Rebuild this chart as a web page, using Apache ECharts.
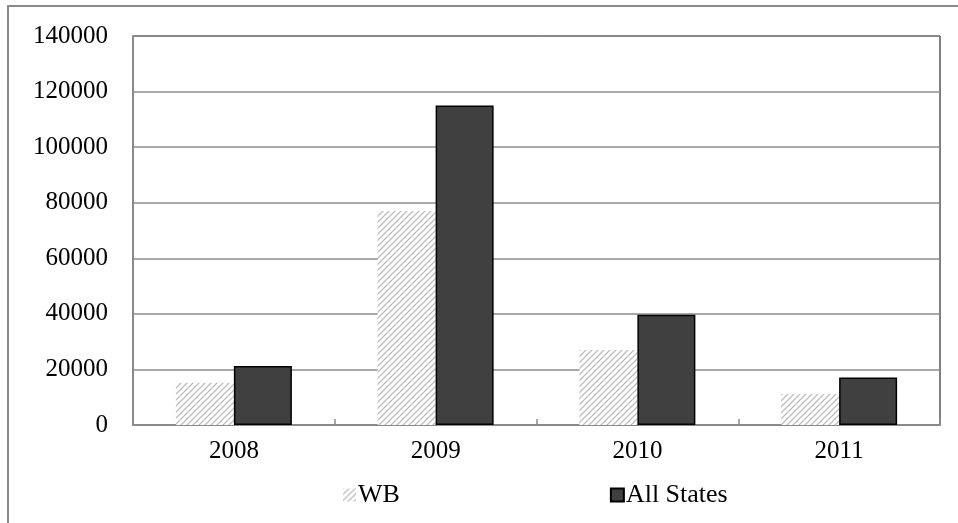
<!DOCTYPE html>
<html>
<head>
<meta charset="utf-8">
<script src="https://cdn.jsdelivr.net/npm/echarts@6/dist/echarts.min.js"></script>
<style>
  html, body { margin: 0; padding: 0; background: #fff; }
  #chart { width: 958px; height: 523px; }
</style>
</head>
<body>
<div id="chart"></div>
<script>
// Yearly totals, WB versus all states
const years = ['2008', '2009', '2010', '2011'];
const wbValues = [15200, 77000, 27000, 11200];
const allStatesValues = [21200, 115000, 39700, 17100];
const yTicks = { min: 0, max: 140000, step: 20000 };

// Light diagonal hatching used for the WB bars
function makeHatch() {
  const s = 6;
  const c = document.createElement('canvas');
  c.width = s; c.height = s;
  const g = c.getContext('2d');
  g.fillStyle = '#ffffff';
  g.fillRect(0, 0, s, s);
  g.strokeStyle = '#bdbdbd';
  g.lineWidth = 1.3;
  g.beginPath();
  g.moveTo(-1, s + 1); g.lineTo(s + 1, -1);
  g.moveTo(-1, 1); g.lineTo(1, -1);
  g.moveTo(s - 1, s + 1); g.lineTo(s + 1, s - 1);
  g.stroke();
  return c;
}
const hatch = { image: makeHatch(), repeat: 'repeat' };

const font = 'Liberation Serif, Times New Roman, serif';
const chart = echarts.init(document.getElementById('chart'));
chart.setOption({
  animation: false,
  backgroundColor: '#fff',
  graphic: [{
    type: 'rect',
    shape: { x: 8, y: 6, width: 1000, height: 600 },
    style: { fill: 'none', stroke: '#8a8a8a', lineWidth: 2 },
    silent: true,
    z: -1
  }],
  grid: {
    left: 133, right: 18, top: 36, bottom: 98,
    show: true, borderColor: '#000', borderWidth: 1
  },
  legend: {
    data: [
      { name: 'WB', icon: 'rect', itemStyle: { borderWidth: 0 } },
      { name: 'All States', icon: 'rect' }
    ],
    left: 338, top: 477,
    itemWidth: 13, itemHeight: 13,
    itemGap: 210,
    textStyle: { fontFamily: font, fontSize: 26, color: '#000', padding: [0, 0, 0, -3] }
  },
  xAxis: {
    type: 'category',
    data: years,
    axisLine: { lineStyle: { color: '#8a8a8a', width: 2 } },
    axisTick: { show: true, inside: true, length: 6, lineStyle: { color: '#8a8a8a', width: 1.5 } },
    axisLabel: { fontFamily: font, fontSize: 25, color: '#000', margin: 14 }
  },
  yAxis: {
    type: 'value',
    min: yTicks.min, max: yTicks.max, interval: yTicks.step,
    axisLine: { show: true, lineStyle: { color: '#8a8a8a', width: 2 } },
    axisTick: { show: false },
    splitLine: { lineStyle: { color: '#8c8c8c', width: 1.5 } },
    axisLabel: {
      fontFamily: font, fontSize: 25, color: '#000', margin: 25,
      formatter: v => String(v)
    }
  },
  series: [
    {
      name: 'WB', type: 'bar', data: wbValues,
      barWidth: 58, barGap: '0%',
      itemStyle: { color: hatch, borderWidth: 0 }
    },
    {
      name: 'All States', type: 'bar', data: allStatesValues,
      barWidth: 58,
      itemStyle: { color: '#404040', borderColor: '#000', borderWidth: 1.5 }
    }
  ]
});
</script>
</body>
</html>
